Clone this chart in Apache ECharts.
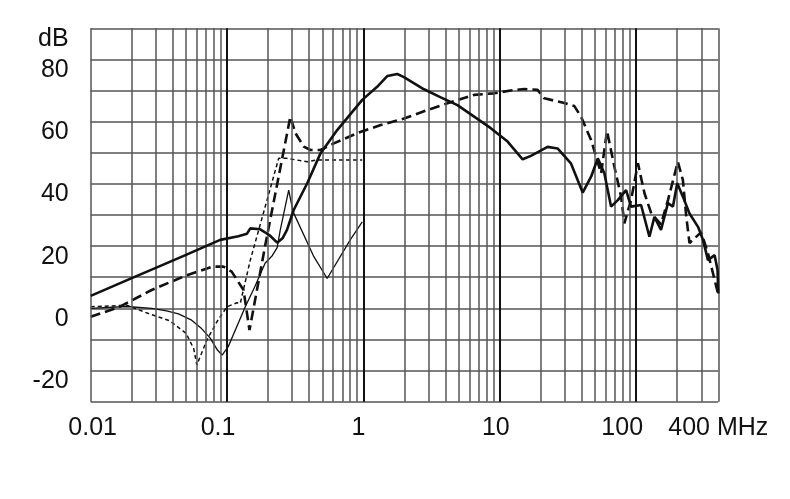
<!DOCTYPE html>
<html><head><meta charset="utf-8">
<script src="https://cdn.jsdelivr.net/npm/echarts@6/dist/echarts.min.js"></script>
<style>html,body{margin:0;padding:0;background:#fff}#c{width:790px;height:499px}</style>
</head><body><div id="c"></div>
<script>
// x tick values (MHz) and their labels
const xTickValues = [0.01, 0.1, 1, 10, 100, 400];
const xTickLabels = ['0.01', '0.1', '1', '10', '100', '400 MHz'];
// vertical grid lines (log paper)
const majorFreqs = [0.1, 1, 10, 100];
const minorFreqs = [0.01, 0.02, 0.03, 0.04, 0.05, 0.06, 0.07, 0.08, 0.09,
  0.2, 0.3, 0.4, 0.5, 0.6, 0.7, 0.8, 0.9,
  2, 3, 4, 5, 6, 7, 8, 9,
  20, 30, 40, 50, 60, 70, 80, 90,
  200, 300, 400];
// y labels
const yLabelValues = [-20, 0, 20, 40, 60, 80];
const yUnit = 'dB';

// thick solid curve [MHz, dB]
const thickSolid = [[0.01,4.0],[0.02,9.7],[0.03,13.0],[0.05,17.2],[0.07,20.0],[0.089,22.0],[0.121,23.2],[0.14,24.0],[0.148,25.7],[0.175,25.4],[0.205,23.5],[0.233,21.1],[0.255,22.5],[0.275,25.2],[0.308,31.6],[0.387,40.2],[0.484,49.8],[0.642,57.3],[0.98,67.0],[1.26,71.2],[1.5,74.7],[1.77,75.3],[1.98,74.3],[2.78,70.4],[3.69,67.8],[4.89,65.3],[6.48,61.6],[8.58,57.9],[11.4,53.6],[14.7,47.9],[16.9,49.0],[22.4,51.9],[26.5,51.4],[33.2,46.6],[40.5,37.2],[46.7,42.3],[52.3,48.2],[58.4,43.4],[65.4,32.7],[73.3,34.8],[84.3,38.0],[91.7,32.7],[108.6,33.2],[125,23.0],[136,29.4],[152,25.2],[171,33.8],[186,32.7],[200,40.2],[220,35.9],[246,30.5],[284,26.2],[309,22.0],[336,15.5],[376,17.1],[395,12.3],[400,4.8]];
// thick dashed curve
const thickDashed = [[0.01,-2.7],[0.016,0.3],[0.028,5.9],[0.049,10.4],[0.078,13.4],[0.094,13.4],[0.108,11.8],[0.132,5.9],[0.146,-7.0],[0.19,20.0],[0.291,61.6],[0.317,56.3],[0.365,52.0],[0.409,50.9],[0.484,50.9],[0.606,53.0],[0.925,56.5],[1.34,58.9],[1.98,61.0],[2.94,63.7],[4.13,65.9],[6.48,68.6],[9.08,69.1],[12.0,70.0],[15.1,70.5],[18.9,70.2],[21.2,67.5],[29.7,66.0],[35.2,65.0],[39.4,61.6],[46.7,54.1],[55.3,43.4],[61.1,57.0],[69.2,45.5],[77.5,35.9],[81.9,27.3],[91.7,34.8],[103,46.6],[115,37.0],[129,30.5],[152,27.0],[171,34.8],[202,47.1],[220,41.2],[233,29.4],[246,21.0],[300,24.5],[336,17.7],[366,11.2],[398,4.8]];
// thin solid curve
const thinSolid = [[0.01,0.0],[0.0184,0.6],[0.028,0.0],[0.036,-0.8],[0.044,-1.8],[0.055,-3.8],[0.065,-6.5],[0.075,-9.5],[0.085,-13.4],[0.092,-15.0],[0.102,-12.3],[0.136,0.5],[0.16,7.0],[0.19,14.5],[0.215,17.0],[0.233,19.5],[0.245,25.0],[0.262,31.0],[0.283,38.0],[0.305,31.0],[0.433,16.6],[0.542,9.6],[0.8,22.0],[0.98,27.8]];
// thin dashed curve
const thinDashed = [[0.01,0.5],[0.0184,1.0],[0.027,-1.8],[0.038,-4.0],[0.05,-8.0],[0.057,-13.0],[0.06,-18.2],[0.0711,-10.2],[0.0843,-4.3],[0.0998,0.5],[0.118,1.8],[0.125,1.6],[0.148,15.5],[0.239,48.2],[0.275,48.2],[0.387,47.1],[0.46,47.7],[0.98,47.7]];

const FONT = "'Liberation Sans', Arial, sans-serif";
const xLabelShift = { '0.01': 2, '0.1': -9, '1': -5, '10': -4, '100': -14, '400 MHz': 0 };
const rich = {};
xTickLabels.forEach((t, i) => {
  const s = xLabelShift[t];
  rich['k' + i] = { fontSize: 25, fontFamily: FONT, color: '#111',
    padding: s >= 0 ? [0, 0, 0, 2 * s] : [0, -2 * s, 0, 0] };
});

const gridLines = []
  .concat(minorFreqs.map(f => ({ xAxis: f, lineStyle: { color: '#555', width: 1.5, type: 'solid' } })))
  .concat(majorFreqs.map(f => ({ xAxis: f, lineStyle: { color: '#111', width: 2, type: 'solid' } })));

const chart = echarts.init(document.getElementById('c'));
chart.setOption({
  animation: false,
  backgroundColor: '#fff',
  grid: { left: 90.7, right: 71.7, top: 28.3, bottom: 97.3 },
  xAxis: {
    type: 'log', logBase: 10, min: 0.01, max: 400,
    axisLine: { show: false }, axisTick: { show: false }, splitLine: { show: false },
    axisLabel: {
      showMinLabel: true, showMaxLabel: true, margin: 14,
      fontSize: 25, fontFamily: FONT, color: '#111', rich: rich,
      formatter: function (v) {
        let best = 0, bd = 1e9;
        xTickValues.forEach((t, i) => { const d = Math.abs(Math.log10(v) - Math.log10(t)); if (d < bd) { bd = d; best = i; } });
        if (bd > 0.01) return '';
        return '{k' + best + '|' + xTickLabels[best] + '}';
      }
    }
  },
  yAxis: {
    type: 'value', min: -30, max: 90, interval: 10,
    axisLine: { show: false }, axisTick: { show: false },
    splitLine: { show: true, lineStyle: { color: '#555', width: 1.5 } },
    axisLabel: {
      margin: 22, fontSize: 25, fontFamily: FONT, color: '#111',
      verticalAlign: 'top', lineHeight: 21,
      formatter: function (v) {
        if (v === 90) return yUnit;
        return yLabelValues.indexOf(v) >= 0 ? String(v) : '';
      }
    }
  },
  series: [
    { type: 'line', data: [], z: 1, silent: true,
      markLine: { symbol: ['none', 'none'], silent: true, animation: false, label: { show: false }, data: gridLines } },
    { type: 'line', data: thinSolid, z: 3, showSymbol: false, symbol: 'none', lineStyle: { color: '#111', width: 1.3 } },
    { type: 'line', data: thinDashed, z: 3, showSymbol: false, symbol: 'none', lineStyle: { color: '#111', width: 1.5, type: [4, 3] } },
    { type: 'line', data: thickDashed, z: 4, showSymbol: false, symbol: 'none', lineStyle: { color: '#111', width: 2.6, type: [10, 5] } },
    { type: 'line', data: thickSolid, z: 5, showSymbol: false, symbol: 'none', lineStyle: { color: '#111', width: 2.6 } }
  ]
});
</script>
</body></html>
